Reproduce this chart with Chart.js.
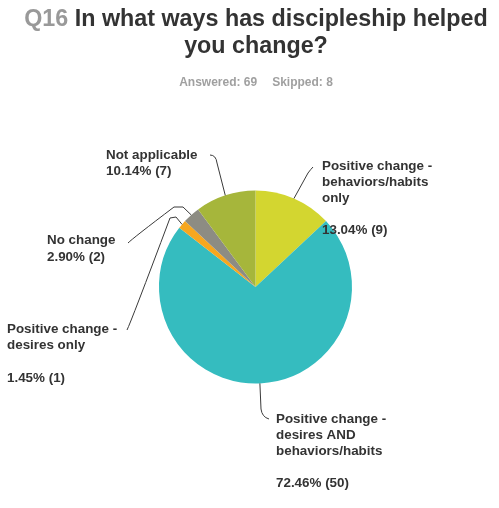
<!DOCTYPE html>
<html>
<head>
<meta charset="utf-8">
<script src="https://cdn.jsdelivr.net/npm/chart.js@4/dist/chart.umd.min.js"></script>
<style>
  html, body { margin: 0; padding: 0; background: #fff; }
  #wrap { position: relative; width: 499px; height: 508px; overflow: hidden; }
  #chart { position: absolute; left: 0; top: 0; }
  .title {
    position: absolute; left: 13px; right: 0; top: 5px;
    text-align: center; font: bold 23.3px "Liberation Sans", Arial, sans-serif;
    line-height: 27px; color: #333;
  }
  .title .qnum { color: #999; }
  .sub {
    position: absolute; left: 13px; right: 0; top: 75px;
    text-align: center; font: bold 12px "Liberation Sans", Arial, sans-serif;
    line-height: 14px; color: #a0a0a0;
  }
  .sub span + span { margin-left: 15px; }
</style>
</head>
<body>
<div id="wrap">
  <canvas id="chart" width="499" height="508"></canvas>
  <div class="title"><span class="qnum">Q16</span> In what ways has discipleship helped<br>you change?</div>
  <div class="sub"><span>Answered: 69</span><span>Skipped: 8</span></div>
</div>
<script>
// Answer choices (wrapped into display lines) and their results
const categories = [
  ['Positive change -', 'behaviors/habits', 'only'],
  ['Positive change -', 'desires AND', 'behaviors/habits'],
  ['Positive change -', 'desires only'],
  ['No change'],
  ['Not applicable']
];
const percents = [13.04, 72.46, 1.45, 2.90, 10.14];
const counts = [9, 50, 1, 2, 7];
const colors = ['#d3d630', '#35bcbf', '#f6a71f', '#8d8c83', '#a6b63b'];

// Where each callout label sits and how its leader line bends
const callouts = [
  { x: 322, y: 170, gap: 32, path: [[308, 173]], hook: [[311, 169], [313, 167]] },
  { x: 276, y: 423, gap: 32, path: [[261, 409]], hook: [[262, 417], [269, 419]] },
  { x: 7,   y: 333, gap: 33, path: [[176, 217], [170, 218]], hook: [[131, 322], [127, 330]] },
  { x: 47,  y: 244, gap: 16.5, path: [[183, 207], [174, 207]], hook: [[133, 238], [128, 243]] },
  { x: 106, y: 159, gap: 16, path: [[217, 163]], hook: [[216, 155], [210, 155]] }
];

const calloutPlugin = {
  id: 'callouts',
  afterDatasetsDraw(chart) {
    const ctx = chart.ctx;
    const meta = chart.getDatasetMeta(0);
    ctx.save();
    ctx.strokeStyle = '#3a3a3a';
    ctx.lineWidth = 1;
    ctx.fillStyle = '#333';
    ctx.font = 'bold 13.4px "Liberation Sans", Arial, sans-serif';
    ctx.textBaseline = 'alphabetic';
    ctx.textAlign = 'left';
    meta.data.forEach((arc, i) => {
      const c = callouts[i];
      const mid = (arc.startAngle + arc.endAngle) / 2;
      const ax = arc.x + Math.cos(mid) * arc.outerRadius;
      const ay = arc.y + Math.sin(mid) * arc.outerRadius;
      ctx.beginPath();
      ctx.moveTo(ax, ay);
      c.path.forEach(p => ctx.lineTo(p[0], p[1]));
      ctx.quadraticCurveTo(c.hook[0][0], c.hook[0][1], c.hook[1][0], c.hook[1][1]);
      ctx.stroke();

      const lines = categories[i];
      lines.forEach((t, k) => ctx.fillText(t, c.x, c.y + k * 16));
      const valueText = percents[i].toFixed(2) + '% (' + counts[i] + ')';
      ctx.fillText(valueText, c.x, c.y + (lines.length - 1) * 16 + c.gap);
    });
    ctx.restore();
  }
};

new Chart(document.getElementById('chart'), {
  type: 'pie',
  data: {
    labels: categories.map(l => l.join(' ')),
    datasets: [{
      data: percents,
      backgroundColor: colors,
      borderWidth: 0
    }]
  },
  options: {
    responsive: false,
    animation: false,
    layout: { padding: { left: 159, right: 147, top: 190, bottom: 124 } },
    plugins: {
      legend: { display: false },
      tooltip: { enabled: false }
    }
  },
  plugins: [calloutPlugin]
});
</script>
</body>
</html>
